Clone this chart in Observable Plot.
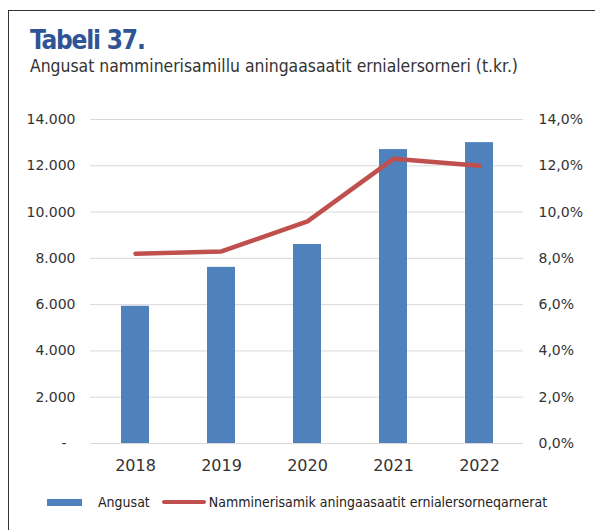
<!DOCTYPE html>
<html><head><meta charset="utf-8">
<script src="https://cdn.jsdelivr.net/npm/d3@7"></script>
<script src="https://cdn.jsdelivr.net/npm/@observablehq/plot@0.6"></script>
<style>
body{margin:0;background:#fff;width:595px;height:530px;position:relative;overflow:hidden;font-family:"DejaVu Sans",sans-serif;}
#frame{position:absolute;left:8px;top:10px;width:600px;height:540px;border-left:1.5px solid #333;border-top:1.5px solid #333;}
#title{position:absolute;left:30px;top:25px;font-family:"DejaVu Sans Condensed","DejaVu Sans",sans-serif;font-weight:bold;font-size:26px;color:#2F5496;letter-spacing:-1.2px;}
#subtitle{position:absolute;left:30px;top:56px;font-family:"DejaVu Sans Condensed","DejaVu Sans",sans-serif;font-size:17.4px;color:#333;}
#chart{position:absolute;left:0;top:90px;}
#legend{position:absolute;left:47px;top:494px;display:flex;align-items:center;font-family:"DejaVu Sans Condensed","DejaVu Sans",sans-serif;font-size:14px;color:#222;}
</style></head>
<body>
<div id="frame"></div>
<div id="title">Tabeli 37.</div>
<div id="subtitle">Angusat namminerisamillu aningaasaatit ernialersorneri (t.kr.)</div>
<div id="chart"></div>
<div id="legend">
  <span style="display:inline-block;width:35px;height:7px;background:#4F81BD;margin-right:16px"></span><span>Angusat</span>
  <span style="display:inline-block;width:44px;height:4px;background:#C0504D;border-radius:2px;margin-left:12px;margin-right:3px"></span><span>Namminerisamik aningaasaatit ernialersorneqarnerat</span>
</div>
<script>
const years = ["2018","2019","2020","2021","2022"];
const angusat = [5930, 7610, 8600, 12700, 13000];
const rate = [8.2, 8.3, 9.6, 12.3, 12.0];
const leftTicks = [0,2000,4000,6000,8000,10000,12000,14000];
const rightTicks = [0,2,4,6,8,10,12,14];

const bars = years.map((y,i)=>({year:y, value:angusat[i]}));
const line = years.map((y,i)=>({year:y, value:rate[i]*1000}));

const fmtL = d => d===0 ? "-\u00a0\u00a0" : d3.format(",")(d).replace(/,/g,".");
const fmtR = d => (d/1000).toFixed(1).replace(".",",")+"%";

const plot = Plot.plot({
  width:595, height:390,
  marginTop:29, marginBottom:37, marginLeft:90, marginRight:72,
  style:{fontFamily:"DejaVu Sans, sans-serif", fontSize:"14px", color:"#333"},
  x:{domain:years, paddingInner:0.68, paddingOuter:0.34, label:null},
  y:{domain:[0,14000], label:null},
  marks:[
    Plot.ruleY(leftTicks, {stroke:"#d9d9d9", strokeWidth:1}),
    Plot.barY(bars, {x:"year", y:"value", fill:"#4F81BD"}),
    Plot.lineY(line, {x:"year", y:"value", stroke:"#C0504D", strokeWidth:4.5, strokeLinecap:"round"}),
    Plot.axisY(leftTicks, {anchor:"left", tickSize:0, tickPadding:15, tickFormat:fmtL, fontSize:14}),
    Plot.axisY(rightTicks.map(d=>d*1000), {anchor:"right", tickSize:0, tickPadding:15, tickFormat:fmtR, fontSize:14}),
    Plot.axisX({tickSize:0, tickPadding:16, fontSize:16})
  ]
});
document.getElementById("chart").appendChild(plot);
</script>
</body></html>
